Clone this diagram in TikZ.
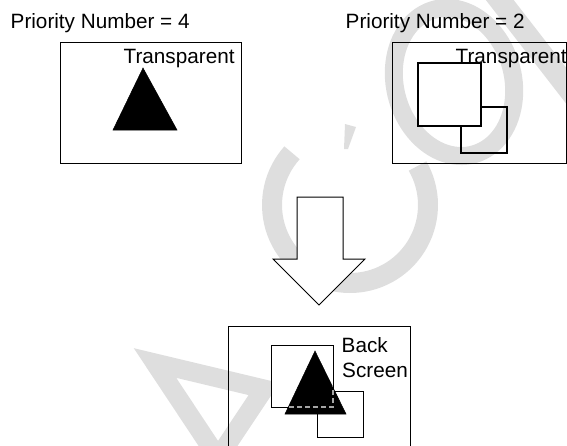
\documentclass[tikz,border=0pt]{standalone}
\usepackage{fontspec}
\setmainfont{Liberation Sans}
\definecolor{wmgray}{RGB}{222,222,222}
\definecolor{dashgray}{RGB}{165,165,165}
\begin{document}
\begin{tikzpicture}[x=1pt,y=-1pt,
  lbl/.style={anchor=base west,inner sep=0pt,font=\fontsize{20.7}{25}\selectfont},
  frame/.style={draw=black,line width=1pt},
  sqr/.style={draw=black,line width=1.3pt},
  soltri/.style={fill=black,draw=black,line width=0.5pt,line join=miter},
  wm/.style={draw=wmgray,line width=20pt},
  hidden/.style={draw=dashgray,line width=1.4pt,dash pattern=on 5pt off 3pt}]
\useasboundingbox (0,0) rectangle (567,445);
% watermark
\draw[wm] plot[variable=\t,domain=-30:222,samples=70] ({350+78*cos(\t)},{205+78*sin(\t)});
\draw[wm,line width=18pt] plot[variable=\t,domain=0:360,samples=90]
  ({454+59*cos(\t)*cos(-15)-75*sin(\t)*sin(-15)},{82+59*cos(\t)*sin(-15)+75*sin(\t)*cos(-15)}) -- cycle;
\draw[wm,line width=22pt] (492,-10) -- (585,110);
\fill[wmgray] (345,124) -- (356,127) -- (348,149) -- (344,149) -- cycle;
\draw[wm,line width=19pt,line join=miter] (155,363) -- (264,389) -- (218,458) -- cycle;
% top left panel
\node[lbl] (p4) at (10.5,28) {Priority Number = 4};
\draw[frame] (60,42) rectangle (241,163);
\node[lbl] (t1) at (123.5,63) {Transparent};
\fill[soltri] (143,68) -- (113,130) -- (177,130) -- cycle;
% top right panel
\node[lbl] (p2) at (345.5,28) {Priority Number = 2};
\draw[frame] (392,42) rectangle (566,163);
\node[lbl] (t2) at (455.5,63) {Transparent};
\draw[sqr] (461,107) rectangle (507,153);
\filldraw[sqr,fill=white] (418,63) rectangle (481,126);
% arrow
\filldraw[frame,fill=white,line join=miter] (297,197) -- (343,197) -- (343,259) -- (365,259) -- (319,305) -- (273,259) -- (297,259) -- cycle;
% bottom panel
\draw[frame] (228,460) -- (228,326) -- (410,326) -- (410,460);
\node[lbl] (bk) at (341.5,352.5) {Back};
\node[lbl] (sc) at (342,377) {Screen};
\draw[frame] (317,391) rectangle (363,437);
\filldraw[frame,fill=white] (271,345) rectangle (333,407);
\fill[soltri] (315,351) -- (285,414) -- (346,414) -- cycle;
\begin{scope}
\clip (315,351) -- (285,414) -- (346,414) -- cycle;
\draw[hidden] (271,345) rectangle (333,407);
\end{scope}
\end{tikzpicture}
\end{document}
